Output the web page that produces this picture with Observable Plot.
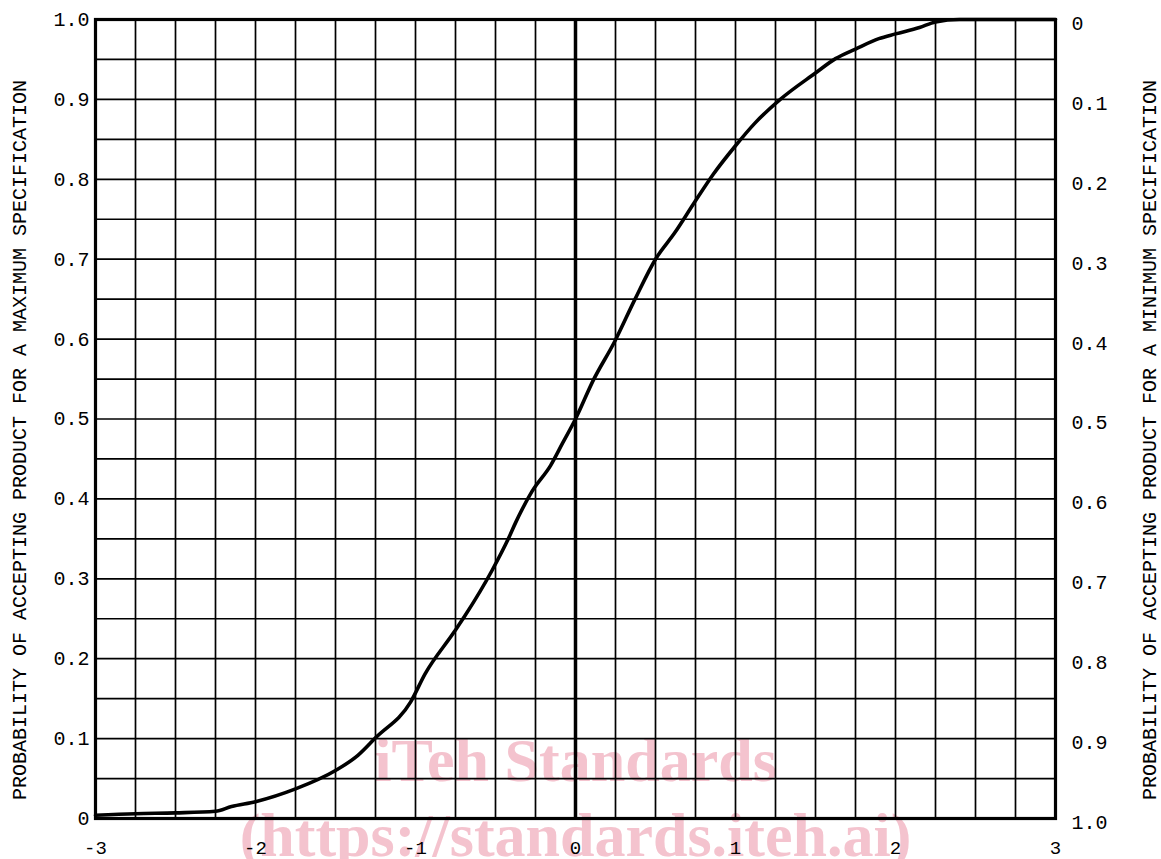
<!DOCTYPE html>
<html>
<head>
<meta charset="utf-8">
<script src="https://cdn.jsdelivr.net/npm/d3@7"></script>
<script src="https://cdn.jsdelivr.net/npm/@observablehq/plot@0.6"></script>
<style>
  html, body { margin: 0; padding: 0; background: white; }
  #chart { width: 1161px; height: 859px; overflow: hidden; }
</style>
</head>
<body>
<div id="chart"></div>
<script>
// ---- data ----
const zValues = [-3, -2.75, -2.5, -2.25, -2.15, -2.0, -1.75, -1.5, -1.36, -1.25, -1.03, -0.94, -0.76, -0.69, -0.52, -0.42, -0.375, -0.27, -0.155, -0.08, 0, 0.11, 0.245, 0.372, 0.5, 0.62, 0.74, 0.86, 1.0, 1.12, 1.28, 1.5, 1.625, 1.75, 1.896, 2.0, 2.15, 2.25, 2.4, 2.6, 3.0];
const pAccept = [0.004, 0.006, 0.007, 0.009, 0.015, 0.021, 0.037, 0.06, 0.079, 0.101, 0.146, 0.181, 0.233, 0.254, 0.311, 0.35, 0.37, 0.41, 0.442, 0.47, 0.5, 0.548, 0.597, 0.65, 0.70, 0.733, 0.77, 0.806, 0.842, 0.87, 0.9, 0.933, 0.951, 0.963, 0.976, 0.982, 0.99, 0.997, 1.0, 1.0, 1.0];

const xTicks = [-3, -2, -1, 0, 1, 2, 3];
const yTicks = [0, 0.1, 0.2, 0.3, 0.4, 0.5, 0.6, 0.7, 0.8, 0.9, 1.0];
const gridX = [-2.75, -2.5, -2.25, -2, -1.75, -1.5, -1.25, -1, -0.75, -0.5, -0.25, 0.25, 0.5, 0.75, 1, 1.25, 1.5, 1.75, 2, 2.25, 2.5, 2.75];
const gridY = [0.05, 0.1, 0.15, 0.2, 0.25, 0.3, 0.35, 0.4, 0.45, 0.5, 0.55, 0.6, 0.65, 0.7, 0.75, 0.8, 0.85, 0.9, 0.95];
const zeroLine = [0];

const leftTitle = "PROBABILITY OF ACCEPTING PRODUCT FOR A MAXIMUM SPECIFICATION";
const rightTitle = "PROBABILITY OF ACCEPTING PRODUCT FOR A MINIMUM SPECIFICATION";
const watermark1 = "iTeh Standards";
const watermark2 = "(https://standards.iteh.ai)";

const curve = zValues.map((z, i) => ({z, p: pAccept[i]}));

const fmtLeft = d => (Math.abs(d) < 1e-9 ? "0" : d.toFixed(1));
const fmtRight = d => { const v = 1 - d; return Math.abs(v) < 1e-9 ? "0" : v.toFixed(1); };
const font = "'Liberation Mono', 'DejaVu Sans Mono', monospace";

const chart = Plot.plot({
  width: 1161,
  height: 859,
  marginLeft: 95,
  marginRight: 106,
  marginTop: 19,
  marginBottom: 41,
  x: {domain: [-3, 3], label: null},
  y: {domain: [0, 1], label: null},
  style: {fontFamily: font, fontSize: "20px", background: "white", color: "black", overflow: "hidden"},
  marks: [
    // watermark (behind the grid)
    Plot.text([watermark1], {text: d => d, frameAnchor: "bottom", dy: -38, fill: "#f4c3ce", fontSize: 62, fontWeight: "bold", fontFamily: "'Liberation Serif', serif"}),
    Plot.text([watermark2], {text: d => d, frameAnchor: "bottom", dy: 37, fill: "#f4c3ce", fontSize: 62, fontWeight: "bold", fontFamily: "'Liberation Serif', serif"}),
    // grid
    Plot.ruleX(gridX, {stroke: "black", strokeWidth: 1.7}),
    Plot.ruleY(gridY, {stroke: "black", strokeWidth: 1.7}),
    Plot.ruleX(zeroLine, {stroke: "black", strokeWidth: 3.5}),
    Plot.frame({stroke: "black", strokeWidth: 3.2}),
    // curve
    Plot.line(curve, {x: "z", y: "p", stroke: "black", strokeWidth: 3.6, curve: "monotone-x"}),
    // axes
    Plot.axisY(yTicks, {anchor: "left", tickSize: 0, tickPadding: 6, tickFormat: fmtLeft, fontSize: 20, label: null}),
    Plot.axisY(yTicks, {anchor: "right", tickSize: 0, tickPadding: 16, tickFormat: fmtRight, fontSize: 20, dy: 4, label: null}),
    Plot.axisX(xTicks, {anchor: "bottom", tickSize: 0, tickPadding: 22, tickFormat: d => String(d), fontSize: 19, label: null}),
    // side titles
    Plot.text([leftTitle], {text: d => d, frameAnchor: "left", rotate: -90, dx: -76, dy: 21, fontSize: 20, textAnchor: "middle"}),
    Plot.text([rightTitle], {text: d => d, frameAnchor: "right", rotate: -90, dx: 94, dy: 21, fontSize: 20, textAnchor: "middle"})
  ]
});

document.getElementById("chart").appendChild(chart);
</script>
</body>
</html>
